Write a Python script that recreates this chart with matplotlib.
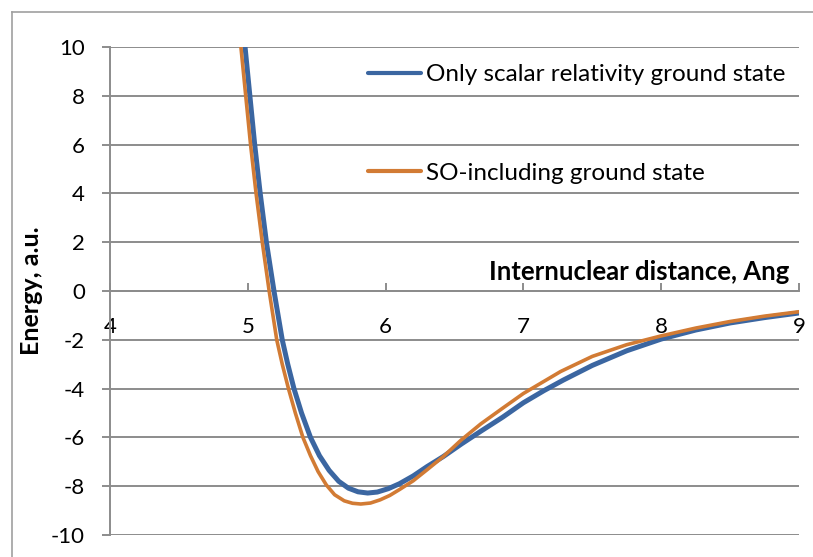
#coding=utf-8

from matplotlib import pyplot as plt
from matplotlib.lines import Line2D
import matplotlib

# internuclear distance (Ang) and energy (a.u.)
dist_scalar = [4.98, 5.015, 5.05, 5.09, 5.135, 5.19, 5.25, 5.29, 5.335, 5.39, 5.455, 5.52, 5.59, 5.66,
               5.73, 5.80, 5.87, 5.94, 6.02, 6.1, 6.2, 6.3, 6.42, 6.55, 6.69, 6.85, 7.0, 7.15,
               7.29, 7.5, 7.75, 8.0, 8.25, 8.5, 8.75, 9.0]
energy_scalar = [10, 8, 6, 4, 2, 0, -2, -3, -4, -5, -6, -6.75, -7.35, -7.8,
                 -8.08, -8.23, -8.28, -8.24, -8.1, -7.9, -7.58, -7.2, -6.78, -6.27, -5.75, -5.17, -4.58, -4.08,
                 -3.65, -3.05, -2.45, -1.97, -1.6, -1.31, -1.09, -0.9]

dist_so = [4.95, 4.985, 5.02, 5.06, 5.105, 5.155, 5.21, 5.25, 5.295, 5.345, 5.40, 5.455, 5.51, 5.57,
           5.63, 5.70, 5.76, 5.82, 5.89, 5.96, 6.03, 6.1, 6.2, 6.3, 6.42, 6.55, 6.69, 6.85,
           7.0, 7.15, 7.27, 7.5, 7.75, 8.0, 8.25, 8.5, 8.75, 9.0]
energy_so = [10, 8, 6, 4, 2, 0, -2, -3, -4, -5, -6, -6.75, -7.4, -7.95,
             -8.35, -8.6, -8.7, -8.73, -8.69, -8.56, -8.38, -8.14, -7.78, -7.33, -6.78, -6.1, -5.45, -4.8,
             -4.2, -3.7, -3.3, -2.68, -2.2, -1.84, -1.52, -1.25, -1.03, -0.85]

x_ticks = [4, 5, 6, 7, 8, 9]
y_ticks = [-10, -8, -6, -4, -2, 0, 2, 4, 6, 8, 10]

label_scalar = "Only scalar relativity ground state"
label_so = "SO-including ground state"


def energy_curves():
    matplotlib.rc("font", family=["Lato", "DejaVu Sans"])
    matplotlib.rcParams["axes.unicode_minus"] = False
    fig = plt.figure(figsize=(8.13, 5.57), dpi=100)
    ax = fig.add_axes([110/813, 1-535/557, 689/813, 488/557])

    grey = "#8c8c8c"
    ax.plot(dist_scalar, energy_scalar, color="#3b66a1", lw=3.6, label=label_scalar,
            solid_capstyle="round", solid_joinstyle="round", zorder=3)
    ax.plot(dist_so, energy_so, color="#d27b34", lw=2.6, label=label_so,
            solid_capstyle="round", solid_joinstyle="round", zorder=4)

    ax.set_xlim(4, 9)
    ax.set_ylim(-10, 10)
    ax.set_xticks(x_ticks)
    ax.set_yticks(y_ticks)
    ax.yaxis.grid(True, color=grey, lw=1.4)
    ax.set_axisbelow(True)

    for s in ["top", "right"]:
        ax.spines[s].set_visible(False)
    ax.spines["bottom"].set_position(("data", 0))
    ax.spines["bottom"].set_color(grey)
    ax.spines["left"].set_color(grey)
    ax.spines["bottom"].set_linewidth(1.4)
    ax.spines["left"].set_linewidth(1.4)

    ax.tick_params(axis="x", direction="in", length=6, width=1.4, color=grey, pad=19, labelsize=16)
    ax.tick_params(axis="y", direction="out", length=6, width=1.4, color=grey, pad=12, labelsize=16)

    ax.set_ylabel("Energy, a.u.", fontsize=18, fontweight="bold", labelpad=6)
    ax.text(8.93, 0.3, "Internuclear distance, Ang", fontsize=18.5, fontweight="bold",
            ha="right", va="bottom")

    leg = ax.legend(loc="upper left", bbox_to_anchor=(368/813, 1-64/557),
                    bbox_transform=fig.transFigure, frameon=False, fontsize=17.5,
                    borderpad=0, borderaxespad=0, handlelength=2.2, handletextpad=0.2,
                    labelspacing=3.2)
    for h in leg.get_lines():
        h.set_linewidth(3)

    # chart border
    fig.add_artist(Line2D([12/813, 12/813], [0, 1-12/557], color="#a0a0a0", lw=1.2))
    fig.add_artist(Line2D([12/813, 1], [1-12/557, 1-12/557], color="#a0a0a0", lw=1.2))

    plt.savefig("out.png", dpi=100)


if __name__ == "__main__":
    energy_curves()
